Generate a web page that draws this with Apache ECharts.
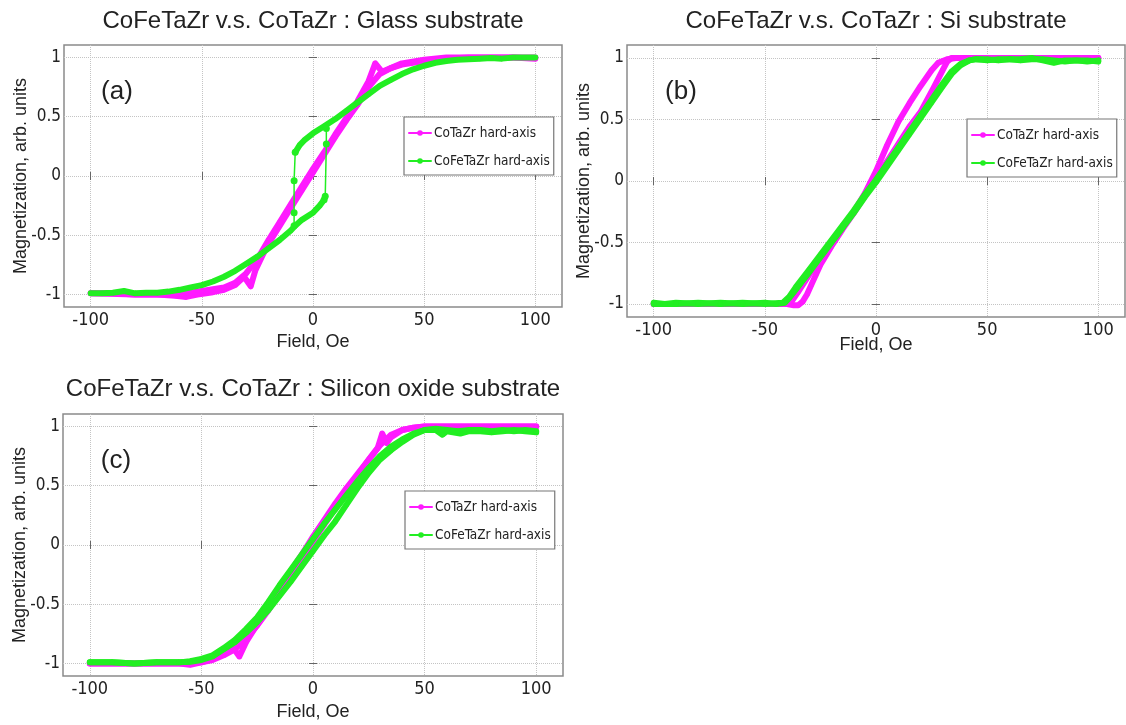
<!DOCTYPE html>
<html>
<head>
<meta charset="utf-8">
<script src="https://cdn.jsdelivr.net/npm/echarts@6/dist/echarts.min.js"></script>
<style>
html,body{margin:0;padding:0;background:#fff;}
#main{width:1126px;height:725px;}
</style>
</head>
<body>
<div id="main"></div>
<script>
// tick labels / names
var fieldTicks = [-100, -50, 0, 50, 100];
var magTicks = [-1, -0.5, 0, 0.5, 1];
var seriesNames = ['CoTaZr hard-axis', 'CoFeTaZr hard-axis'];
var panelTitles = [
  'CoFeTaZr v.s. CoTaZr : Glass substrate',
  'CoFeTaZr v.s. CoTaZr : Si substrate',
  'CoFeTaZr v.s. CoTaZr : Silicon oxide substrate'
];
var panelTags = ['(a)', '(b)', '(c)'];

// (a) glass substrate  [field Oe, magnetization]
var glassCoTaZrUp = [[-100,-0.99],[-90,-0.99],[-80,-1.0],[-70,-1.0],[-62,-1.01],[-57,-1.02],[-52,-1.0],[-45,-0.98],[-40,-0.96],[-35,-0.92],[-31,-0.85],[-28,-0.93],[-26,-0.8],[-23,-0.68],[-20,-0.57],[-15,-0.42],[-10,-0.27],[-5,-0.12],[0,0.03],[5,0.18],[10,0.33],[15,0.47],[20,0.6],[25,0.75],[30,0.86],[35,0.91],[40,0.95],[50,0.98],[60,1.0],[70,1.0],[80,1.0],[90,1.0],[100,0.99]];
var glassCoTaZrDown = [[100,1.0],[90,1.0],[80,1.0],[70,1.0],[60,0.99],[50,0.97],[40,0.94],[35,0.91],[31,0.88],[28,0.95],[25,0.8],[20,0.63],[15,0.49],[10,0.35],[5,0.2],[0,0.06],[-5,-0.09],[-10,-0.24],[-15,-0.39],[-20,-0.54],[-25,-0.7],[-30,-0.82],[-35,-0.9],[-40,-0.94],[-50,-0.97],[-57,-0.99],[-65,-1.0],[-80,-1.0],[-100,-0.99]];
var glassCoFeTaZrUpper = [[-8,0.2],[-6,0.26],[-4,0.3],[0,0.36],[5,0.42],[10,0.48],[15,0.55],[20,0.62],[25,0.69],[30,0.76],[35,0.81],[40,0.86],[45,0.9],[50,0.93],[55,0.955],[60,0.97],[65,0.98],[70,0.985],[75,0.99],[80,0.995],[85,0.99],[90,1.0],[95,1.0],[100,1.0]];
var glassCoFeTaZrLower = [[-100,-0.99],[-95,-0.99],[-90,-0.985],[-85,-0.97],[-80,-0.99],[-75,-0.985],[-70,-0.985],[-65,-0.975],[-60,-0.96],[-55,-0.94],[-50,-0.92],[-45,-0.89],[-40,-0.85],[-35,-0.8],[-30,-0.74],[-25,-0.68],[-20,-0.61],[-15,-0.54],[-10,-0.46],[-8,-0.42],[-5,-0.37],[0,-0.31],[3,-0.25],[5,-0.2]];
var glassCoFeTaZrJumpDown = [[-8,0.2],[-8.5,-0.04],[-8.5,-0.31],[-8.5,-0.42]];
var glassCoFeTaZrJumpUp = [[5,-0.2],[5.5,-0.17],[6,0.27],[6,0.4]];

// (b) Si substrate
var siCoTaZrUp = [[-100,-1.0],[-90,-1.0],[-80,-1.0],[-70,-1.0],[-60,-1.0],[-50,-1.0],[-40,-1.0],[-37,-1.01],[-35,-1.01],[-33,-0.98],[-31,-0.92],[-29,-0.84],[-27,-0.76],[-25,-0.68],[-20,-0.53],[-15,-0.39],[-10,-0.26],[-5,-0.12],[0,0.02],[5,0.16],[10,0.3],[15,0.44],[20,0.56],[26,0.76],[30,0.9],[32,0.97],[34,1.0],[40,1.0],[50,1.0],[60,1.0],[70,1.0],[80,1.0],[90,1.0],[100,1.0]];
var siCoTaZrDown = [[100,1.0],[90,1.0],[80,1.0],[70,1.0],[60,1.0],[50,1.0],[40,1.0],[36,1.0],[32,0.99],[28,0.96],[25,0.9],[20,0.77],[15,0.63],[10,0.48],[5,0.29],[0,0.08],[-5,-0.1],[-10,-0.25],[-15,-0.38],[-20,-0.5],[-25,-0.63],[-30,-0.76],[-35,-0.9],[-38,-0.98],[-40,-1.0],[-50,-1.0],[-60,-1.0],[-70,-1.0],[-80,-1.0],[-90,-1.0],[-100,-1.0]];
var siCoFeTaZrUp = [[-100,-0.99],[-95,-1.0],[-90,-0.99],[-80,-1.0],[-70,-0.99],[-60,-1.0],[-50,-0.99],[-45,-1.0],[-41,-0.99],[-39,-0.95],[-36,-0.88],[-30,-0.74],[-25,-0.62],[-20,-0.5],[-15,-0.38],[-10,-0.26],[-5,-0.13],[0,-0.01],[5,0.12],[10,0.25],[15,0.38],[20,0.51],[25,0.64],[30,0.77],[34,0.87],[38,0.94],[42,0.98],[45,0.99],[50,0.99],[55,0.98],[60,0.99],[65,0.99],[70,1.0],[75,0.98],[80,0.96],[85,0.98],[90,0.98],[95,0.98],[100,0.97]];
var siCoFeTaZrDown = [[100,0.98],[95,0.97],[90,0.98],[85,0.97],[80,0.98],[75,0.99],[70,0.99],[65,0.98],[60,0.99],[55,0.99],[50,0.98],[45,0.99],[42,0.98],[38,0.95],[34,0.89],[30,0.79],[25,0.66],[20,0.53],[15,0.4],[10,0.27],[5,0.14],[0,0.01],[-5,-0.11],[-10,-0.24],[-15,-0.36],[-20,-0.48],[-25,-0.6],[-30,-0.72],[-36,-0.86],[-39,-0.94],[-42,-0.99],[-50,-1.0],[-60,-0.99],[-70,-1.0],[-80,-0.99],[-90,-1.0],[-100,-1.0]];

// (c) silicon oxide substrate
var oxCoTaZrUp = [[-100,-1.0],[-90,-1.0],[-80,-1.0],[-70,-1.0],[-60,-1.0],[-55,-1.01],[-50,-0.99],[-45,-0.96],[-40,-0.91],[-36,-0.86],[-33,-0.94],[-30,-0.82],[-25,-0.67],[-20,-0.52],[-15,-0.37],[-10,-0.22],[-5,-0.08],[0,0.07],[5,0.21],[10,0.35],[15,0.48],[20,0.6],[25,0.72],[30,0.84],[35,0.93],[40,0.97],[45,0.99],[50,1.0],[60,1.0],[70,1.0],[80,1.0],[90,1.0],[100,1.0]];
var oxCoTaZrDown = [[100,1.0],[90,1.0],[80,1.0],[70,1.0],[60,1.0],[50,1.0],[45,0.99],[40,0.97],[35,0.91],[33,0.86],[31,0.94],[29,0.82],[25,0.72],[20,0.59],[15,0.45],[10,0.31],[5,0.17],[0,0.03],[-5,-0.12],[-10,-0.27],[-15,-0.41],[-20,-0.55],[-25,-0.68],[-30,-0.79],[-35,-0.88],[-40,-0.93],[-45,-0.97],[-50,-0.99],[-60,-1.0],[-70,-1.0],[-80,-1.0],[-90,-1.0],[-100,-1.0]];
var oxCoFeTaZrUp = [[-100,-0.99],[-90,-0.99],[-80,-1.0],[-70,-0.99],[-60,-0.99],[-55,-0.985],[-50,-0.97],[-45,-0.94],[-40,-0.88],[-35,-0.82],[-30,-0.74],[-25,-0.65],[-20,-0.55],[-15,-0.43],[-10,-0.31],[-5,-0.18],[0,-0.05],[5,0.08],[10,0.2],[15,0.34],[20,0.48],[25,0.61],[30,0.72],[35,0.8],[40,0.87],[45,0.93],[50,0.97],[55,0.97],[58,0.93],[60,0.96],[66,0.94],[70,0.96],[75,0.96],[80,0.95],[85,0.96],[90,0.97],[95,0.96],[100,0.95]];
var oxCoFeTaZrDown = [[100,0.96],[95,0.97],[90,0.96],[85,0.97],[80,0.96],[75,0.97],[70,0.97],[65,0.96],[60,0.97],[55,0.98],[50,0.97],[45,0.94],[40,0.89],[35,0.83],[30,0.75],[25,0.65],[20,0.54],[15,0.42],[10,0.3],[5,0.18],[0,0.05],[-5,-0.08],[-10,-0.21],[-15,-0.34],[-20,-0.48],[-25,-0.61],[-30,-0.71],[-35,-0.8],[-40,-0.87],[-45,-0.93],[-50,-0.96],[-55,-0.98],[-60,-0.99],[-70,-0.99],[-80,-1.0],[-90,-0.99],[-100,-0.99]];

(function(){
  var myChart = echarts.init(document.getElementById('main'));

  var magenta = '#ff1aff';
  var green = '#22ee22';
  var narrow = "'Liberation Sans Narrow', 'DejaVu Sans Condensed', 'Liberation Sans', sans-serif";
  var plain = "'Liberation Sans', Arial, sans-serif";

  var panels = [
    {grid:{left:64, top:45, width:498, height:262}, title:[313, 9], legend:[404, 117], tag:[117, 92], xGap:26,
     thick:[[glassCoTaZrUp, glassCoTaZrDown], [glassCoFeTaZrLower, glassCoFeTaZrUpper]],
     thin:[[], [glassCoFeTaZrJumpDown, glassCoFeTaZrJumpUp]]},
    {grid:{left:627, top:45, width:498, height:272}, title:[876, 9], legend:[967, 119], tag:[681, 92], xGap:19,
     thick:[[siCoTaZrUp, siCoTaZrDown], [siCoFeTaZrUp, siCoFeTaZrDown]], thin:[[], []]},
    {grid:{left:63, top:414, width:500, height:262}, title:[313, 377], legend:[405, 491], tag:[116, 461], xGap:27,
     thick:[[oxCoTaZrUp, oxCoTaZrDown], [oxCoFeTaZrUp, oxCoFeTaZrDown]], thin:[[], []]}
  ];

  var grids = [], xAxes = [], yAxes = [], titles = [], legends = [], series = [], graphics = [];
  var colors = [magenta, green];

  panels.forEach(function(p, i){
    grids.push({left:p.grid.left, top:p.grid.top, width:p.grid.width, height:p.grid.height,
      show:true, borderColor:'#8a8a8a', borderWidth:1.5, backgroundColor:'#fff'});

    xAxes.push({
      type:'value', gridIndex:i, min:-112, max:112,
      name:'Field, Oe', nameLocation:'middle', nameGap:p.xGap, nameMoveOverlap:false,
      nameTextStyle:{fontFamily:plain, fontSize:18, color:'#222'},
      axisLine:{show:false},
      axisTick:{inside:true, length:4, lineStyle:{color:'#666'}, customValues:fieldTicks},
      axisLabel:{customValues:fieldTicks, fontFamily:narrow, fontSize:18, color:'#222', margin:4},
      splitLine:{show:true, lineStyle:{type:'dotted', color:'#c4c4c4'}}
    });
    // mirrored ticks on top
    xAxes.push({
      type:'value', gridIndex:i, min:-112, max:112, position:'top',
      axisLine:{show:false}, axisLabel:{show:false}, splitLine:{show:false},
      axisTick:{inside:true, length:4, lineStyle:{color:'#666'}, customValues:fieldTicks}
    });

    yAxes.push({
      type:'value', gridIndex:i, min:-1.105, max:1.105,
      name:'Magnetization, arb. units', nameLocation:'middle', nameGap:34, nameMoveOverlap:false,
      nameTextStyle:{fontFamily:plain, fontSize:18, color:'#222'},
      axisLine:{show:false},
      axisTick:{inside:true, length:4, lineStyle:{color:'#666'}, customValues:magTicks},
      axisLabel:{customValues:magTicks, fontFamily:narrow, fontSize:17, color:'#222', margin:3,
        formatter:function(v){ return String(v); }},
      splitLine:{show:true, lineStyle:{type:'dotted', color:'#c4c4c4'}}
    });
    yAxes.push({
      type:'value', gridIndex:i, min:-1.105, max:1.105, position:'right',
      axisLine:{show:false}, axisLabel:{show:false}, splitLine:{show:false},
      axisTick:{inside:true, length:4, lineStyle:{color:'#666'}, customValues:magTicks}
    });

    titles.push({
      text:panelTitles[i], left:p.title[0], top:p.title[1], textAlign:'center', padding:0,
      textStyle:{fontFamily:plain, fontSize:24, fontWeight:'normal', color:'#222'}
    });

    legends.push({
      data:seriesNames, orient:'vertical', left:p.legend[0], top:p.legend[1],
      backgroundColor:'#fff', borderColor:'#777', borderWidth:1.2, padding:[8, 4, 6, 4],
      itemWidth:22, itemHeight:7, itemGap:12, selectedMode:false,
      lineStyle:{width:2},
      textStyle:{fontFamily:narrow, fontSize:13.5, lineHeight:16, color:'#222', padding:[0, 0, 0, -2]}
    });

    graphics.push({
      type:'text', x:p.tag[0], y:p.tag[1],
      style:{text:panelTags[i], fontFamily:plain, fontSize:26, fill:'#222', align:'center', verticalAlign:'middle'}
    });

    for (var k = 0; k < 2; k++) {
      p.thick[k].forEach(function(d){
        series.push({
          name:seriesNames[k], type:'line', xAxisIndex:2 * i, yAxisIndex:2 * i,
          data:d, symbol:'circle', symbolSize:5, showSymbol:true,
          itemStyle:{color:colors[k]},
          lineStyle:{color:colors[k], width:6, cap:'round', join:'round'},
          emphasis:{disabled:true}, silent:true, z:2 + k
        });
      });
      p.thin[k].forEach(function(d){
        series.push({
          name:seriesNames[k], type:'line', xAxisIndex:2 * i, yAxisIndex:2 * i,
          data:d, symbol:'circle', symbolSize:7, showSymbol:true,
          itemStyle:{color:colors[k]},
          lineStyle:{color:colors[k], width:1.5},
          emphasis:{disabled:true}, silent:true, z:3 + k
        });
      });
    }
  });

  var option = {
    animation:false,
    backgroundColor:'#fff',
    title:titles,
    legend:legends,
    grid:grids,
    xAxis:xAxes,
    yAxis:yAxes,
    graphic:graphics,
    series:series
  };

  myChart.setOption(option);
})();
</script>
</body>
</html>
